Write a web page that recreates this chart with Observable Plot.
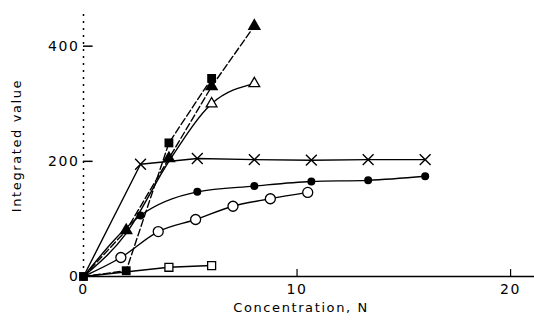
<!DOCTYPE html>
<html>
<head>
<meta charset="utf-8">
<script src="https://cdn.jsdelivr.net/npm/d3@7"></script>
<script src="https://cdn.jsdelivr.net/npm/@observablehq/plot@0.6"></script>
<style>
  html, body { margin: 0; padding: 0; background: #fff; }
  .chart text { letter-spacing: 1.6px; }
</style>
</head>
<body>
<div id="chart"></div>
<script>
// Series values (x = concentration N, y = integrated value)
const triFilledX = [0, 2, 4, 6, 8];
const triFilledY = [0, 80, 205, 330, 435];

const triOpenX = [0, 2, 4, 6, 8];
const triOpenY = [0, 75, 200, 300, 335];

const sqFilledX = [0, 2, 4, 6];
const sqFilledY = [0, 10, 232, 344];

const crossX = [0, 2.67, 5.33, 8, 10.67, 13.33, 16];
const crossY = [0, 195, 205, 203, 202, 203, 203];

const dotFilledX = [0, 2.67, 5.33, 8, 10.67, 13.33, 16];
const dotFilledY = [0, 106, 147, 157, 165, 167, 174];

const dotOpenX = [0, 1.75, 3.5, 5.25, 7, 8.75, 10.5];
const dotOpenY = [0, 33, 78, 99, 122, 135, 146];

const sqOpenX = [0, 4, 6];
const sqOpenY = [0, 16, 19];

const xTicks = [0, 10, 20];
const yTicks = [0, 200, 400];
const xLabel = "Concentration, N";
const yLabel = "Integrated value";

const rows = (xs, ys) => xs.map((x, i) => ({x, y: ys[i]}));
const triF = rows(triFilledX, triFilledY);
const triO = rows(triOpenX, triOpenY);
const sqF = rows(sqFilledX, sqFilledY);
const crs = rows(crossX, crossY);
const dotF = rows(dotFilledX, dotFilledY);
const dotO = rows(dotOpenX, dotOpenY);
const sqO = rows(sqOpenX, sqOpenY);

const lw = 1.4;
const chart = Plot.plot({
  className: "chart",
  width: 534,
  height: 321,
  marginLeft: 83,
  marginRight: 0,
  marginTop: 14,
  marginBottom: 45,
  style: {fontFamily: "DejaVu Sans", fontSize: "13px", background: "#fff", color: "#000"},
  x: {domain: [0, 21.12]},
  y: {domain: [0, 455]},
  marks: [
    Plot.ruleX([0], {stroke: "#000", strokeWidth: 1.5, strokeDasharray: "2,5"}),
    Plot.ruleY([0], {stroke: "#000", strokeWidth: 1.5}),
    Plot.ruleY([200, 400], {x1: 0, x2: 0.45, stroke: "#000", strokeWidth: 1.5}),
    Plot.ruleX([10, 20], {y1: 0, y2: 12, stroke: "#000", strokeWidth: 1.2}),
    Plot.axisY({ticks: yTicks, tickSize: 0, tickPadding: 4, fontSize: 14, label: null}),
    Plot.axisX({ticks: xTicks, tickSize: 0, tickPadding: 8, fontSize: 14, label: null}),
    Plot.text([xLabel], {frameAnchor: "bottom", textAnchor: "middle", dx: -8, dy: 35, fontSize: 13}),
    Plot.text([yLabel], {frameAnchor: "left", textAnchor: "middle", rotate: -90, dx: -67, dy: 0, fontSize: 13}),

    Plot.line(triF, {x: "x", y: "y", stroke: "#000", strokeWidth: lw, strokeDasharray: "7,3"}),
    Plot.line(sqF, {x: "x", y: "y", stroke: "#000", strokeWidth: lw, strokeDasharray: "7,3"}),
    Plot.line(triO, {x: "x", y: "y", stroke: "#000", strokeWidth: lw, curve: "monotone-x"}),
    Plot.line(crs, {x: "x", y: "y", stroke: "#000", strokeWidth: lw}),
    Plot.line(dotF, {x: "x", y: "y", stroke: "#000", strokeWidth: lw, curve: "monotone-x"}),
    Plot.line(dotO, {x: "x", y: "y", stroke: "#000", strokeWidth: lw, curve: "monotone-x"}),
    Plot.line(sqO, {x: "x", y: "y", stroke: "#000", strokeWidth: lw}),

    Plot.dot(dotO.slice(1), {x: "x", y: "y", symbol: "circle", r: 5, fill: "#fff", stroke: "#000", strokeWidth: 1.3}),
    Plot.dot(sqO.slice(1), {x: "x", y: "y", symbol: "square", r: 4.5, fill: "#fff", stroke: "#000", strokeWidth: 1.3}),
    Plot.dot(triO.slice(3), {x: "x", y: "y", symbol: "triangle", r: 4, fill: "#fff", stroke: "#000", strokeWidth: 1.3}),
    Plot.dot(dotF, {x: "x", y: "y", symbol: "circle", r: 4, fill: "#000"}),
    Plot.dot(crs.slice(1), {x: "x", y: "y", symbol: "times", r: 5, stroke: "#000", strokeWidth: 1.4}),
    Plot.dot(sqF, {x: "x", y: "y", symbol: "square", r: 5, fill: "#000"}),
    Plot.dot(triF.slice(1), {x: "x", y: "y", symbol: "triangle", r: 5, fill: "#000"})
  ]
});
document.getElementById("chart").appendChild(chart);
</script>
</body>
</html>
